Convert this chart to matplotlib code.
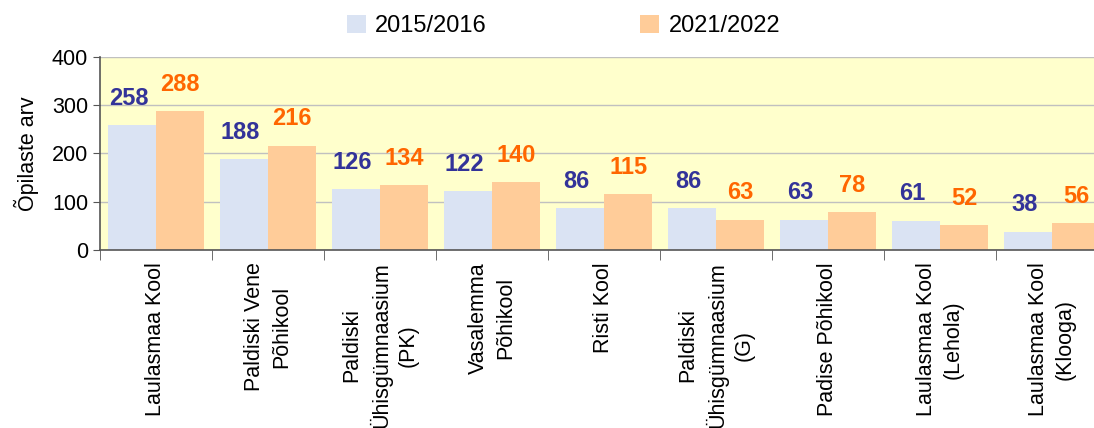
import matplotlib.pyplot as plt
import numpy as np

plt.rcParams['font.family'] = ['Liberation Sans', 'DejaVu Sans']

koolid = ['Laulasmaa Kool', 'Paldiski Vene\nPõhikool', 'Paldiski\nÜhisgümnaasium\n(PK)',
          'Vasalemma\nPõhikool', 'Risti Kool', 'Paldiski\nÜhisgümnaasium\n(G)',
          'Padise Põhikool', 'Laulasmaa Kool\n(Lehola)', 'Laulasmaa Kool\n(Klooga)']
v2015 = [258, 188, 126, 122, 86, 86, 63, 61, 38]
v2021 = [288, 216, 134, 140, 115, 63, 78, 52, 56]

fig = plt.figure(figsize=(10.94, 4.28), dpi=100)
ax = fig.add_axes([0.0914, 0.416, 0.9214, 0.451])
ax.set_facecolor('#FFFFCC')

x = np.arange(len(koolid))
w = 0.43
b1 = ax.bar(x - w / 2, v2015, w, color='#DAE3F3', label='2015/2016', zorder=2)
b2 = ax.bar(x + w / 2, v2021, w, color='#FFCC99', label='2021/2022', zorder=2)

for xi, v in zip(x - w / 2, v2015):
    ax.annotate(str(v), (xi - 0.03, v), xytext=(0, 11), textcoords='offset points',
                ha='center', va='bottom', fontsize=17, fontweight='bold', color='#333399')
for xi, v in zip(x + w / 2, v2021):
    ax.annotate(str(v), (xi, v), xytext=(0, 11), textcoords='offset points',
                ha='center', va='bottom', fontsize=17, fontweight='bold', color='#FF6600')

ax.set_xlim(-0.5, len(koolid) - 0.5)
ax.set_ylim(0, 400)
ax.set_yticks([0, 100, 200, 300, 400])
ax.yaxis.grid(True, color='#C0C0C0', linewidth=1, zorder=0)
ax.set_axisbelow(True)

ax.set_xticks(x)
ax.set_xticklabels(koolid, rotation=90, ha='center', va='top', multialignment='center',
                   fontsize=15.5, linespacing=1.35)
ax.set_xticks(np.arange(len(koolid) + 1) - 0.5, minor=True)
ax.tick_params(axis='x', which='major', length=0, pad=9)
ax.tick_params(axis='x', which='minor', length=7, color='#555555', direction='out')
ax.tick_params(axis='y', labelsize=15.5, length=5, color='#555555')

for s in ['top', 'right']:
    ax.spines[s].set_visible(False)
for s in ['left', 'bottom']:
    ax.spines[s].set_color('#555555')
    ax.spines[s].set_linewidth(1.2)

ax.set_ylabel('Õpilaste arv', fontsize=15.5, labelpad=9)

fig.legend(handles=[b1, b2], loc='center', bbox_to_anchor=(0.515, 0.94), ncol=2,
           frameon=False, fontsize=17, columnspacing=6.5, handlelength=0.8,
           handleheight=0.8, handletextpad=0.4)

fig.savefig('out.png', dpi=100)
